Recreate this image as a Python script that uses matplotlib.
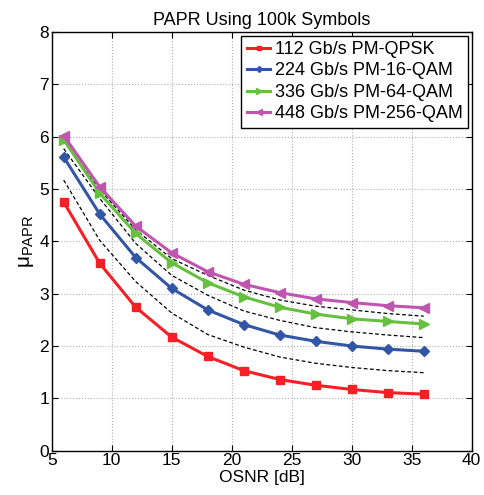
import numpy as np
import matplotlib
matplotlib.use('Agg')
import matplotlib.pyplot as plt

plt.rcParams['font.family'] = ['Liberation Sans', 'DejaVu Sans']
plt.rcParams['mathtext.fontset'] = 'custom'
plt.rcParams['mathtext.rm'] = 'Liberation Sans'
plt.rcParams['mathtext.it'] = 'Liberation Sans:italic'

# OSNR [dB]
osnr = [6, 9, 12, 15, 18, 21, 24, 27, 30, 33, 36]

# PAPR curves
qpsk = [4.75, 3.58, 2.74, 2.17, 1.80, 1.53, 1.36, 1.25, 1.17, 1.11, 1.08]
qam16 = [5.61, 4.52, 3.69, 3.10, 2.69, 2.41, 2.21, 2.09, 2.00, 1.94, 1.90]
qam64 = [5.94, 4.92, 4.15, 3.59, 3.21, 2.94, 2.74, 2.61, 2.52, 2.47, 2.42]
qam256 = [6.02, 5.04, 4.29, 3.78, 3.42, 3.18, 3.02, 2.90, 2.83, 2.77, 2.73]

# dashed reference curves
ref_a = [5.17, 4.02, 3.23, 2.63, 2.22, 1.98, 1.79, 1.67, 1.59, 1.53, 1.49]
ref_b = [5.77, 4.82, 3.96, 3.35, 2.97, 2.67, 2.49, 2.35, 2.27, 2.21, 2.16]
ref_c = [5.92, 4.99, 4.22, 3.67, 3.35, 3.07, 2.88, 2.76, 2.69, 2.62, 2.57]

labels = ['112 Gb/s PM-QPSK', '224 Gb/s PM-16-QAM',
          '336 Gb/s PM-64-QAM', '448 Gb/s PM-256-QAM']

fig = plt.figure(figsize=(4.85, 4.95), dpi=100)
ax = fig.add_axes([0.1066, 0.0895, 0.866, 0.846])

for ref in (ref_a, ref_b, ref_c):
    ax.plot(osnr, ref, 'k--', lw=0.9, dashes=(3, 2))

ax.plot(osnr, qpsk, '-s', color='#f52025', lw=2.2, ms=6, label=labels[0])
ax.plot(osnr, qam16, '-D', color='#3355a5', lw=2.2, ms=5, label=labels[1])
ax.plot(osnr, qam64, '->', color='#66c040', lw=2.2, ms=7, label=labels[2])
ax.plot(osnr, qam256, '-<', color='#c055b0', lw=2.2, ms=7, label=labels[3])

ax.set_xlim(5, 40)
ax.set_ylim(0, 8)
ax.set_xticks(range(5, 41, 5))
ax.set_yticks(range(0, 9))
ax.tick_params(direction='in', top=True, right=True, labelsize=12.5, length=4, pad=2)
ax.grid(True, color='#b0b0b0', lw=0.8, linestyle=':')
for s in ax.spines.values():
    s.set_linewidth(1.0)

ax.set_title('PAPR Using 100k Symbols', fontsize=13, pad=5)
ax.set_xlabel('OSNR [dB]', fontsize=12.5, labelpad=1)
ax.set_ylabel('μ$_{\\mathrm{PAPR}}$', fontsize=15, labelpad=2)

leg = ax.legend(loc='upper right', fontsize=13, handlelength=1.3, handletextpad=0.25,
                borderpad=0.3, labelspacing=0.25, borderaxespad=0.2,
                fancybox=False, framealpha=1, markerscale=0.6)
leg.get_frame().set_edgecolor('black')
leg.get_frame().set_linewidth(1.0)

fig.savefig('out.png', dpi=100)
